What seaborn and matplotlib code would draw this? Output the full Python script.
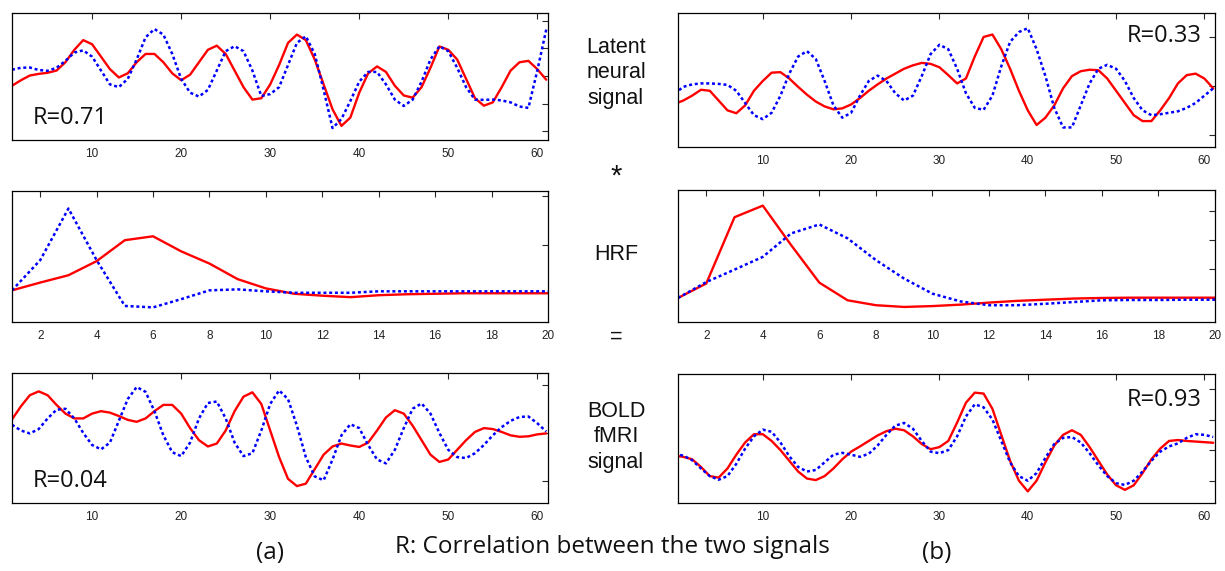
import numpy as np
import pandas as pd
import matplotlib
matplotlib.use("Agg")
import matplotlib.pyplot as plt
import seaborn as sns

sns.set_style("white")
plt.rcParams["font.family"] = ["Liberation Sans", "DejaVu Sans"]

# latent neural signal, panel (a) and (b)
x_a = list(range(1, 62))
x_b = list(range(0, 62))
red_a1 = [-0.35, -0.15, 0.02, 0.08, 0.12, 0.2, 0.5, 0.95, 1.3, 1.15, 0.7, 0.25, -0.05, 0.1, 0.5, 0.8, 0.8, 0.5, 0.1, -0.15,
          0.05, 0.5, 0.95, 1.1, 0.8, 0.2, -0.4, -0.85, -0.8, -0.3, 0.4, 1.2, 1.5, 1.3, 0.6, -0.3, -1.2, -1.8, -1.5, -0.6,
          0.1, 0.35, 0.15, -0.35, -0.7, -0.78, -0.4, 0.3, 1.07, 0.95, 0.6, -0.1, -0.8, -1.07, -0.95, -0.4, 0.2, 0.5, 0.55, 0.25,
          -0.13]
blue_a1 = [0.23, 0.3, 0.31, 0.22, 0.19, 0.3, 0.55, 0.85, 0.93, 0.7, 0.2, -0.3, -0.4, -0.1, 0.6, 1.4, 1.7, 1.5, 0.8, -0.1,
           -0.6, -0.74, -0.5, 0.2, 0.9, 1.08, 0.9, 0.2, -0.72, -0.65, -0.4, 0.4, 1.2, 1.44, 0.8, -0.5, -1.88, -1.55, -0.9, -0.2,
           0.15, 0.15, -0.3, -0.85, -1.08, -0.85, -0.2, 0.6, 1.08, 0.9, 0.3, -0.4, -0.85, -0.86, -0.85, -0.88, -0.95, -1.1, -1.15, 0.2,
           1.68]
red_b1 = [-0.37, -0.3, -0.2, -0.08, -0.1, -0.3, -0.5, -0.56, -0.4, -0.1, 0.1, 0.27, 0.28, 0.15, -0.02, -0.18, -0.32, -0.42, -0.48, -0.46,
          -0.38, -0.25, -0.1, 0.03, 0.15, 0.25, 0.35, 0.42, 0.47, 0.45, 0.38, 0.22, 0.05, 0.15, 0.6, 1.0, 1.05, 0.75, 0.35, -0.1,
          -0.5, -0.8, -0.65, -0.4, -0.05, 0.2, 0.3, 0.33, 0.32, 0.15, -0.1, -0.35, -0.6, -0.72, -0.72, -0.5, -0.25, 0.05, 0.22, 0.25,
          0.15, -0.05]
blue_b1 = [-0.16, -0.02, 0.03, 0.05, 0.05, 0.04, 0.02, -0.1, -0.35, -0.6, -0.68, -0.55, -0.2, 0.25, 0.6, 0.71, 0.55, 0.1, -0.4, -0.65,
           -0.55, -0.2, 0.1, 0.21, 0.1, -0.15, -0.3, -0.2, 0.2, 0.65, 0.84, 0.75, 0.35, -0.15, -0.45, -0.49, -0.2, 0.4, 0.9, 1.1,
           1.18, 0.75, 0.2, -0.45, -0.85, -0.85, -0.4, 0.05, 0.35, 0.43, 0.35, 0.1, -0.25, -0.5, -0.6, -0.58, -0.55, -0.52, -0.45, -0.35,
           -0.2, -0.05]

# HRF
x_h = list(range(1, 21))
red_a2 = [0.06, 0.22, 0.37, 0.66, 1.09, 1.17, 0.86, 0.61, 0.29, 0.10, -0.01, -0.05, -0.08, -0.04, -0.02, -0.01, 0.0, 0.0, 0.0, 0.0]
blue_a2 = [0.06, 0.68, 1.74, 0.68, -0.26, -0.29, -0.12, 0.06, 0.08, 0.04, 0.01, 0.01, 0.01, 0.04, 0.04, 0.04, 0.04, 0.04, 0.04, 0.04]
red_b2 = [0.0, 0.5, 2.79, 3.19, 1.83, 0.53, -0.08, -0.25, -0.31, -0.28, -0.23, -0.16, -0.10, -0.06, -0.02, 0.0, 0.01, 0.01, 0.01, 0.01]
blue_b2 = [0.0, 0.55, 0.98, 1.42, 2.23, 2.54, 2.06, 1.31, 0.67, 0.15, -0.12, -0.25, -0.25, -0.2, -0.14, -0.08, -0.07, -0.07, -0.06, -0.06]

# BOLD fMRI signal
red_a3 = [0.28, 0.55, 0.78, 0.86, 0.78, 0.58, 0.4, 0.3, 0.3, 0.4, 0.45, 0.42, 0.35, 0.27, 0.23, 0.3, 0.45, 0.58, 0.58, 0.4,
          0.1, -0.15, -0.28, -0.22, 0.05, 0.45, 0.75, 0.84, 0.6, 0.05, -0.5, -0.95, -1.1, -1.05, -0.75, -0.45, -0.28, -0.22, -0.26, -0.29,
          -0.2, 0.05, 0.32, 0.47, 0.4, 0.15, -0.15, -0.45, -0.6, -0.55, -0.35, -0.15, 0.02, 0.1, 0.08, 0.02, -0.05, -0.08, -0.07, -0.03,
          -0.01]
blue_a3 = [0.17, 0.05, -0.01, 0.08, 0.3, 0.48, 0.5, 0.3, 0.0, -0.25, -0.34, -0.2, 0.25, 0.7, 0.95, 0.85, 0.45, -0.05, -0.4, -0.48,
           -0.2, 0.3, 0.62, 0.65, 0.3, -0.2, -0.48, -0.42, 0.05, 0.6, 0.88, 0.7, 0.15, -0.5, -0.9, -0.98, -0.55, -0.05, 0.18, 0.1,
           -0.25, -0.55, -0.63, -0.35, 0.1, 0.5, 0.61, 0.4, 0.0, -0.35, -0.5, -0.52, -0.42, -0.25, -0.05, 0.12, 0.25, 0.33, 0.34, 0.2,
           0.03]
red_b3 = [-0.18, -0.22, -0.3, -0.55, -0.85, -0.9, -0.6, -0.15, 0.25, 0.52, 0.52, 0.3, 0.0, -0.35, -0.7, -0.93, -0.98, -0.85, -0.6, -0.3,
          -0.05, 0.12, 0.3, 0.48, 0.62, 0.7, 0.65, 0.45, 0.2, 0.03, 0.1, 0.3, 0.9, 1.55, 1.88, 1.85, 1.35, 0.5, -0.35, -1.0,
          -1.35, -1.0, -0.4, 0.15, 0.5, 0.65, 0.5, 0.1, -0.35, -0.8, -1.15, -1.3, -1.15, -0.75, -0.3, 0.05, 0.3, 0.33, 0.3, 0.28,
          0.26, 0.24]
blue_b3 = [-0.12, -0.18, -0.33, -0.6, -0.85, -0.97, -0.85, -0.45, 0.05, 0.45, 0.67, 0.6, 0.25, -0.2, -0.55, -0.7, -0.65, -0.4, -0.15, -0.09,
           -0.15, -0.22, -0.12, 0.15, 0.5, 0.8, 0.89, 0.7, 0.3, -0.05, -0.1, 0.0, 0.45, 1.1, 1.5, 1.4, 1.0, 0.3, -0.4, -0.85,
           -1.0, -0.75, -0.25, 0.2, 0.4, 0.43, 0.25, -0.1, -0.5, -0.85, -1.08, -1.14, -1.0, -0.7, -0.35, -0.05, 0.12, 0.22, 0.4, 0.52,
           0.5, 0.43]

sig_ticks = [10, 20, 30, 40, 50, 60]
hrf_ticks = list(range(2, 21, 2))
r_labels = ["R=0.71", "R=0.33", "R=0.04", "R=0.93"]

W, H = 1225, 571
fig = plt.figure(figsize=(W / 100, H / 100), dpi=100)


def box(x0, y0, x1, y1):
    # pixel box -> figure fraction
    return [x0 / W, 1 - y1 / H, (x1 - x0) / W, (y1 - y0) / H]


def panel(rect, x, red, blue, xlim, ylim, yticks, xticks):
    ax = fig.add_axes(rect)
    sns.lineplot(x=x, y=red, ax=ax, color="#ff0000", lw=1.7)
    sns.lineplot(x=x, y=blue, ax=ax, color="#0000ff", lw=1.8, linestyle=(0, (1.2, 1.1)))
    ax.set_xlim(*xlim)
    ax.set_ylim(*ylim)
    ax.set_xticks(xticks)
    ax.set_yticks(yticks)
    ax.set_yticklabels([])
    ax.set_xlabel("")
    ax.set_ylabel("")
    ax.tick_params(direction="in", length=4, width=0.8, top=True, right=True,
                   labelsize=8.5, labelcolor="#222222", pad=6)
    for s in ax.spines.values():
        s.set_color("black")
        s.set_linewidth(0.9)
    return ax


ax1 = panel(box(12, 13, 548, 140), x_a, red_a1, blue_a1, (1, 61.2), (-2.31, 2.28), [-2, -1, 0, 1, 2], sig_ticks)
ax2 = panel(box(678, 13, 1215, 147), x_b, red_b1, blue_b1, (0.4, 61.2), (-1.25, 1.49), [-1, 0, 1], sig_ticks)
ax3 = panel(box(12, 191, 548, 322), x_h, red_a2, blue_a2, (1, 20), (-0.59, 2.1), [0, 1, 2], hrf_ticks)
ax4 = panel(box(678, 190, 1215, 322), x_h, red_b2, blue_b2, (1, 20), (-0.83, 3.73), [0, 1, 2, 3], hrf_ticks)
ax5 = panel(box(12, 373, 548, 503), x_a, red_a3, blue_a3, (1, 61.2), (-1.45, 1.24), [-1, 0, 1], sig_ticks)
ax6 = panel(box(678, 374, 1215, 503), x_b, red_b3, blue_b3, (0.4, 61.2), (-1.73, 2.49), [-1, 0, 1, 2], sig_ticks)

rfont = dict(family=["Open Sans", "DejaVu Sans"], fontsize=17, color="#111111", va="center")
ax1.text(0.039, 0.17, r_labels[0], transform=ax1.transAxes, ha="left", **rfont)
ax2.text(0.975, 0.825, r_labels[1], transform=ax2.transAxes, ha="right", **rfont)
ax5.text(0.039, 0.167, r_labels[2], transform=ax5.transAxes, ha="left", **rfont)
ax6.text(0.975, 0.80, r_labels[3], transform=ax6.transAxes, ha="right", **rfont)

mid = dict(ha="center", va="center", fontsize=15.5, color="#111111")
fig.text(616 / W, 1 - 73 / H, "Latent\nneural\nsignal", linespacing=1.3, **mid)
fig.text(616 / W, 1 - 177 / H, "*", ha="center", va="center", fontsize=21, color="#111111")
fig.text(616 / W, 1 - 255 / H, "HRF", **mid)
fig.text(616 / W, 1 - 337 / H, "=", **mid)
fig.text(616 / W, 1 - 437 / H, "BOLD\nfMRI\nsignal", linespacing=1.3, **mid)

cal = dict(family=["Open Sans", "DejaVu Sans"], fontsize=17.5, color="#111111", ha="center", va="center")
fig.text(612 / W, 1 - 547 / H, "R: Correlation between the two signals", **cal)
fig.text(270 / W, 1 - 553 / H, "(a)", **cal)
fig.text(937 / W, 1 - 553 / H, "(b)", **cal)

fig.savefig("out.png", dpi=100)
